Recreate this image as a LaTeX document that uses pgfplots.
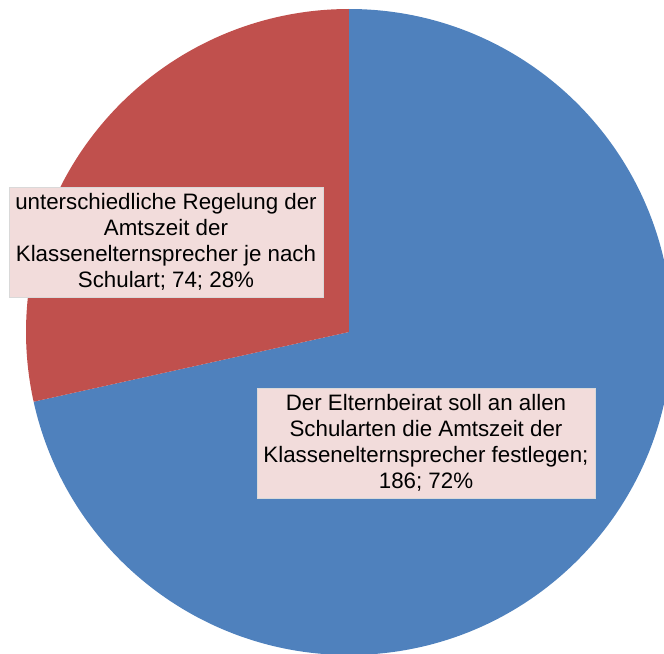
\documentclass[border=0pt]{standalone}
\usepackage{pgfplots}
\usepackage{pgfplotstable}
\pgfplotsset{compat=1.18}
\usepackage{fontspec}
\setmainfont{Liberation Sans}
\definecolor{pieblue}{HTML}{4F81BD}
\definecolor{piered}{HTML}{C0504D}
\definecolor{lblfill}{HTML}{F2DCDB}
\pgfplotstableread{
value
186
74
}\piedata
\begin{document}
\begin{tikzpicture}
\pgfplotstablegetelem{0}{value}\of\piedata \let\va\pgfplotsretval
\pgfplotstablegetelem{1}{value}\of\piedata \let\vb\pgfplotsretval
\pgfmathsetmacro{\total}{\va+\vb}
\pgfmathsetmacro{\frac}{\va/\total}
\pgfmathsetmacro{\angA}{360*\frac}
\pgfmathsetmacro{\endA}{90-\angA}
\pgfmathsetmacro{\endB}{90+360-\angA}
\begin{axis}[x=2cm,y=2cm,
  xmin=-3.49,xmax=3.15,ymin=-3.22,ymax=3.32,
  hide axis, clip=true]
\fill[pieblue] (axis cs:0,0) -- (axis cs:0,3.23) arc[start angle=90,end angle=\endA,radius=6.46cm] -- cycle;
\fill[piered] (axis cs:0,0) -- (axis cs:0,3.23) arc[start angle=90,end angle=\endB,radius=6.46cm] -- cycle;
\node[fill=lblfill, draw=black!15, align=center, font=\fontsize{12.7}{14.8}\selectfont,
  minimum width=6.28cm, minimum height=2.2cm, inner sep=0pt]
  at (axis cs:-1.83,0.90) {unterschiedliche Regelung der\\Amtszeit der\\Klassenelternsprecher je nach\\Schulart; 74; 28\%};
\node[fill=lblfill, draw=black!15, align=center, font=\fontsize{12.7}{14.8}\selectfont,
  minimum width=6.76cm, minimum height=2.2cm, inner sep=0pt]
  at (axis cs:0.77,-1.11) {Der Elternbeirat soll an allen\\Schularten die Amtszeit der\\Klassenelternsprecher festlegen;\\186; 72\%};
\end{axis}
\pgfresetboundingbox
\path[use as bounding box] (current axis.south west) rectangle (current axis.north east);
\end{tikzpicture}
\end{document}
